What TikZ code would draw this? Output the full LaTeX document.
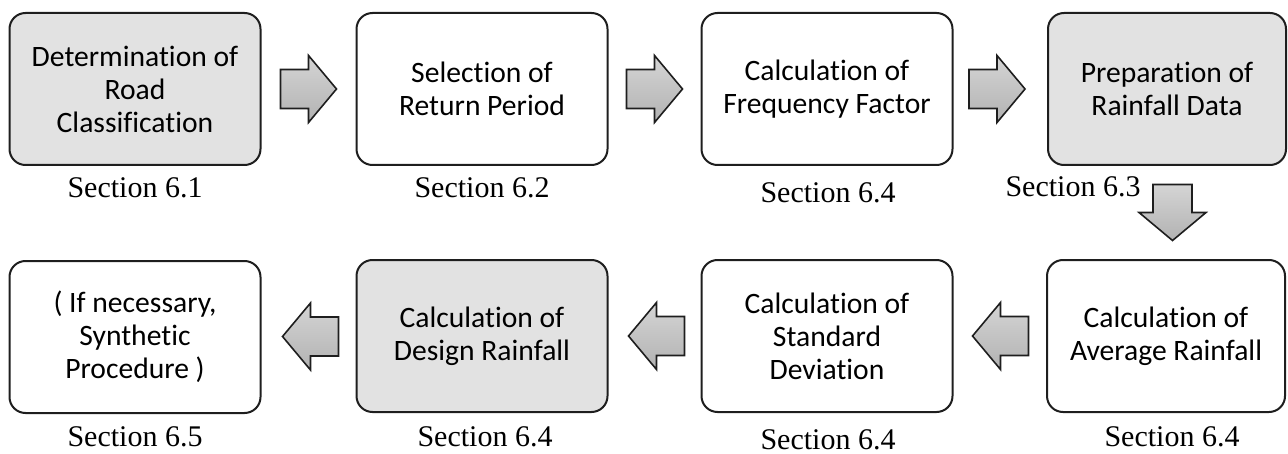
\documentclass[tikz,border=0pt]{standalone}
\usepackage{fontspec}
\setmainfont{Liberation Serif}
\newfontfamily\boxfont[Ligatures=NoCommon]{Carlito}
\usepackage{tikz}
\usetikzlibrary{calc, positioning}
\definecolor{boxline}{RGB}{30,30,30}
\definecolor{boxgray}{RGB}{226,226,226}
\definecolor{arrgray}{RGB}{178,178,178}

\tikzset{
  stepbox/.style={draw=boxline, line width=1pt, rounded corners=8pt,
    minimum width=125.5pt, minimum height=76pt, align=center, inner sep=2pt,
    font=\boxfont\fontsize{14.8}{16.5}\selectfont},
  greybox/.style={stepbox, fill=boxgray},
  seclabel/.style={font=\fontsize{15}{18}\selectfont, inner sep=0pt},
  blockarrow/.pic={
    \draw[line width=0.8pt, draw=boxline, line join=miter,
          top color=arrgray!55, bottom color=arrgray]
      (-28,-19.5) -- (0,-19.5) -- (0,-33.5) -- (28,0) -- (0,33.5)
      -- (0,19.5) -- (-28,19.5) -- cycle;
  }
}

\begin{document}
\begin{tikzpicture}[x=0.5pt, y=-0.5pt]
  \useasboundingbox (0,0) rectangle (1288,454);
  % Top row
  \node[greybox] (road) at (135,89) {Determination of\\Road\\Classification};
  \node[stepbox] (period) at (482,89) {Selection of\\Return Period};
  \node[stepbox] (freq) at (827,89) {Calculation of\\Frequency Factor};
  \node[greybox, minimum width=119pt] (data) at (1167,89) {Preparation of\\Rainfall Data};
  % Bottom row
  \node[stepbox, minimum width=119pt] (avg) at (1166,336) {Calculation of\\Average Rainfall};
  \node[stepbox] (stdev) at (827,336) {Calculation of\\Standard\\Deviation};
  \node[greybox] (design) at (482,336) {Calculation of\\Design Rainfall};
  \node[stepbox] (synth) at (135,337) {( If necessary,\\Synthetic\\Procedure )};
  % Section labels
  \node[seclabel] (sec-road) at (135,188) {Section 6.1};
  \node[seclabel] (sec-period) at (482,188) {Section 6.2};
  \node[seclabel] (sec-freq) at (828,193) {Section 6.4};
  \node[seclabel] (sec-data) at (1073,187) {Section 6.3};
  \node[seclabel] (sec-avg) at (1172,437) {Section 6.4};
  \node[seclabel] (sec-stdev) at (828,440) {Section 6.4};
  \node[seclabel] (sec-design) at (485,437) {Section 6.4};
  \node[seclabel] (sec-synth) at (135,437) {Section 6.5};
  % Block arrows
  \pic at ($(road)!0.5!(period)$) {blockarrow};
  \pic at ($(period)!0.5!(freq)$) {blockarrow};
  \pic at ($(freq)!0.5!(data)$) {blockarrow};
  \pic[rotate=-90] at ($(data)!0.5!(avg)+(6,0)$) {blockarrow};
  \pic[rotate=180] at ($(avg)!0.5!(stdev)+(4,0)$) {blockarrow};
  \pic[rotate=180] at ($(stdev)!0.5!(design)+(2,0)$) {blockarrow};
  \pic[rotate=180] at ($(design)!0.5!(synth)+(2,0)$) {blockarrow};
\end{tikzpicture}
\end{document}
